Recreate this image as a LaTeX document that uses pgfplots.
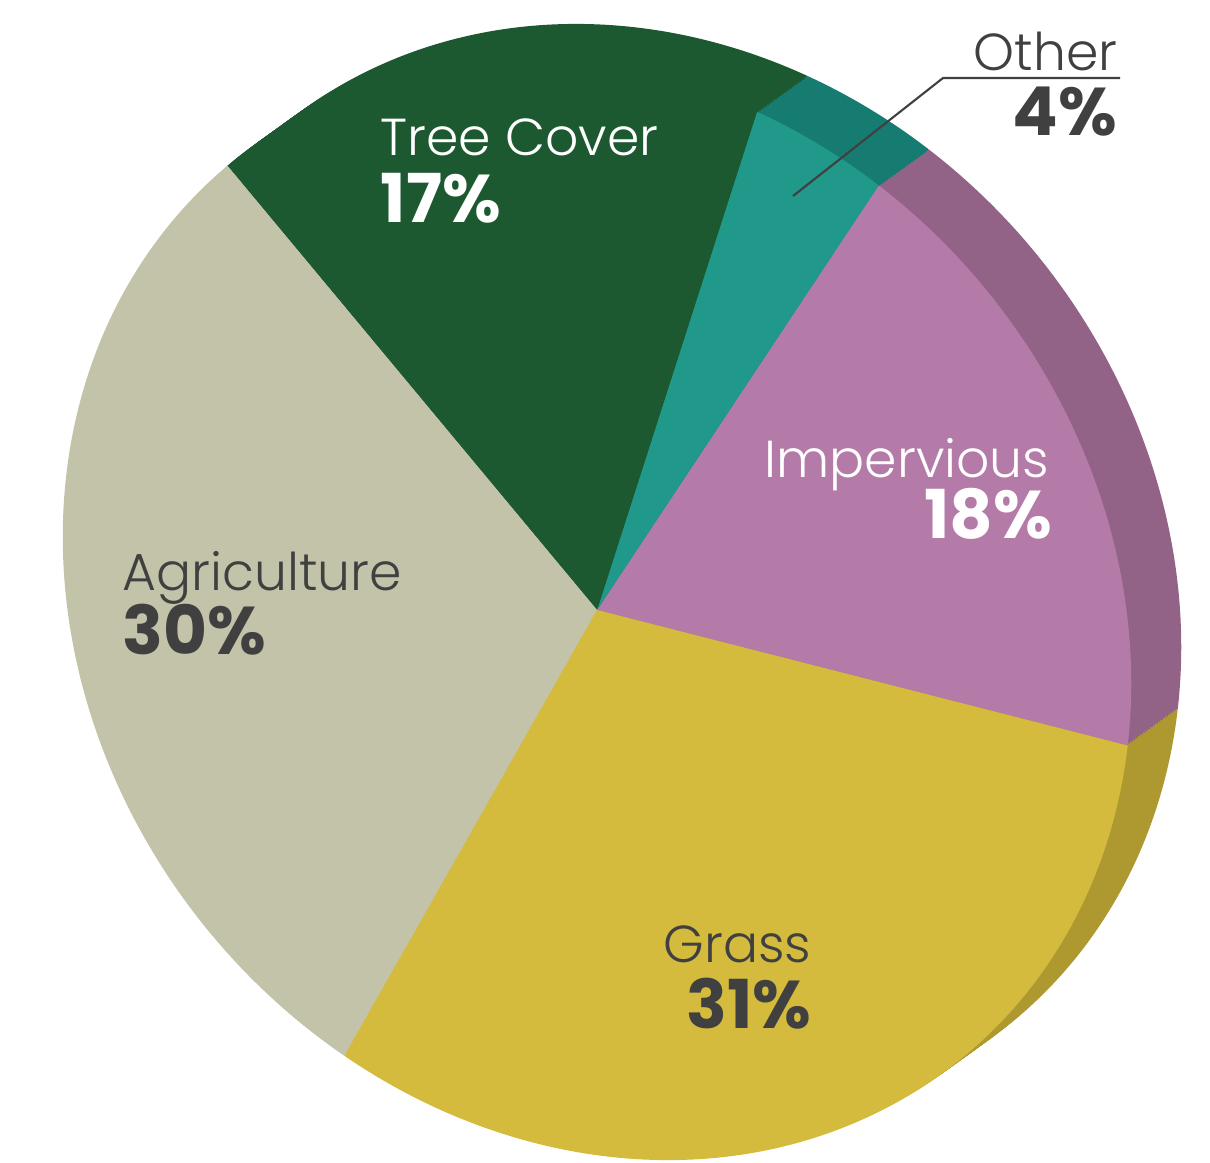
\documentclass[border=0pt]{standalone}
\usepackage{fontspec}
\setmainfont{Poppins}
\newfontfamily\lightfont{Poppins Light}
\usepackage{pgfplots}
\usepackage{pgfplotstable}
\pgfplotsset{compat=1.18}

\definecolor{treec}{HTML}{1C5930}
\definecolor{otherc}{HTML}{20988A}
\definecolor{otherr}{HTML}{167B70}
\definecolor{impc}{HTML}{B47AA8}
\definecolor{impr}{HTML}{936387}
\definecolor{grassc}{HTML}{D4BB3D}
\definecolor{grassr}{HTML}{AD9930}
\definecolor{agric}{HTML}{C3C3AA}
\definecolor{txt}{HTML}{404040}

% land cover shares, counter-clockwise from the Impervious/Grass edge
\pgfplotstableread{
label        pct
Impervious   18
Other        4
TreeCover    17
Agriculture  30
Grass        31
}\landcover

% tilted disc: ellipse radii, tilt, start angle
\def\ra{5.78cm}
\def\rb{5.04cm}
\def\rot{-51.2}
\def\startang{40.7}

\pgfplotstablegetelem{0}{pct}\of\landcover\let\pA\pgfplotsretval
\pgfplotstablegetelem{1}{pct}\of\landcover\let\pB\pgfplotsretval
\pgfplotstablegetelem{2}{pct}\of\landcover\let\pC\pgfplotsretval
\pgfplotstablegetelem{3}{pct}\of\landcover\let\pD\pgfplotsretval
\pgfplotstablegetelem{4}{pct}\of\landcover\let\pE\pgfplotsretval
\pgfmathsetmacro\aA{\startang}
\pgfmathsetmacro\aB{\aA+3.6*\pA}
\pgfmathsetmacro\aC{\aB+3.6*\pB}
\pgfmathsetmacro\aD{\aC+3.6*\pC}
\pgfmathsetmacro\aE{\aD+3.6*\pD}
\pgfmathsetmacro\aF{\aE+3.6*\pE}

\newcommand\slice[3]{%
  \fill[#1] (0,0) -- (#2:{\ra} and {\rb})
    arc[start angle=#2, end angle=#3, x radius=\ra, y radius=\rb] -- cycle;}

\newcommand\namefont{\lightfont\fontsize{14.8}{18}\selectfont}
\newcommand\pctfont{\fontsize{19.2}{23}\selectfont\bfseries}

\begin{document}
\begin{tikzpicture}
\useasboundingbox (0,0) rectangle (12.1cm,11.62cm);
\begin{axis}[
  scale only axis,
  width=12.1cm, height=11.62cm,
  xmin=0, xmax=1210, ymin=0, ymax=1162,
  hide axis, clip=false]

  % side of the disc
  \pgfplotsinvokeforeach{20,19,...,1}{
    \begin{scope}[shift={(axis cs:{597+2.5*#1},{552+1.8*#1})}, rotate=\rot]
      \slice{impr}{\aA}{\aB}
      \slice{otherr}{\aB}{\aC}
      \slice{treec}{\aC}{\aD}
      \slice{agric}{\aD}{\aE}
      \slice{grassr}{\aE}{\aF}
    \end{scope}
  }

  % top face
  \begin{scope}[shift={(axis cs:597,552)}, rotate=\rot]
    \slice{impc}{\aA}{\aB}
    \slice{otherc}{\aB}{\aC}
    \slice{treec}{\aC}{\aD}
    \slice{agric}{\aD}{\aE}
    \slice{grassc}{\aE}{\aF}
  \end{scope}

  \draw[txt, line width=0.6pt] (axis cs:793,966) -- (axis cs:943,1084) -- (axis cs:1120,1084);

  \node[anchor=base west, inner sep=0, white, font=\namefont] at (axis cs:380,1007) {Tree Cover};
  \node[anchor=base west, inner sep=0, white, font=\pctfont] at (axis cs:380,940) {17\%};
  \node[anchor=base east, inner sep=0, txt, font=\namefont] at (axis cs:1118,1092) {Other};
  \node[anchor=base east, inner sep=0, txt, font=\pctfont] at (axis cs:1118,1027) {4\%};
  \node[anchor=base east, inner sep=0, white, font=\namefont] at (axis cs:1050,685) {Impervious};
  \node[anchor=base east, inner sep=0, white, font=\pctfont] at (axis cs:1053,624) {18\%};
  \node[anchor=base west, inner sep=0, txt, font=\namefont] at (axis cs:122,572) {Agriculture};
  \node[anchor=base west, inner sep=0, txt, font=\pctfont] at (axis cs:122,508) {30\%};
  \node[anchor=base east, inner sep=0, txt, font=\namefont] at (axis cs:812,200) {Grass};
  \node[anchor=base east, inner sep=0, txt, font=\pctfont] at (axis cs:812,134) {31\%};
\end{axis}
\end{tikzpicture}
\end{document}
